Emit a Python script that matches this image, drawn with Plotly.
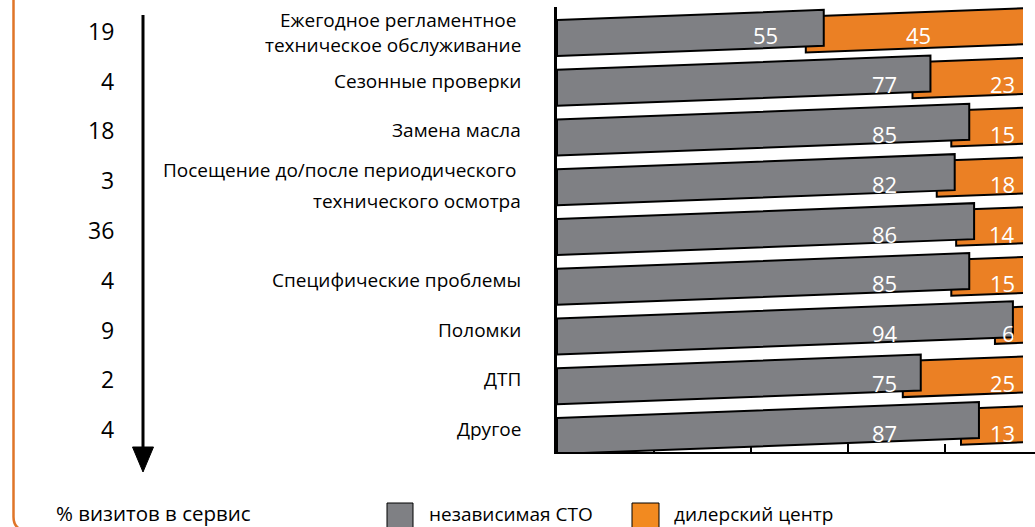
import plotly.graph_objects as go

# ---------------- data ----------------
categories = [
    "Ежегодное регламентное\u00a0\nтехническое обслуживание",
    "Сезонные проверки",
    "Замена масла",
    "Посещение до/после периодического\u00a0\nтехнического осмотра",
    "",
    "Специфические проблемы",
    "Поломки",
    "ДТП",
    "Другое",
]
visit_share = [19, 4, 18, 3, 36, 4, 9, 2, 4]
independent = [55, 77, 85, 82, 86, 85, 94, 75, 87]
dealer = [45, 23, 15, 18, 14, 15, 6, 25, 13]
series_names = ["независимая СТО", "дилерский центр"]
share_title = "% визитов в сервис"

# ---------------- style / layout constants ----------------
W, H = 1035, 527
X0, X1 = 557, 1023          # plot area (px)
Y_TOP, Y_BOT = 7, 452
PX_UNIT = 4.85              # px per percent
ROW0, ROW_STEP = 38, 49.75  # px of first row centre, row pitch
HALF_H_PX = 18
TILT = 0.038                # px rise per px to the right
OR_DROP_PX = 6
OR_TUCK = 3.7
GRAY = "#7F8084"
ORANGE = "#EB8024"
FONT = "Open Sans"

def px(x):
    return x / W

def py(y):
    return 1 - y / H

x_range = [0, (X1 - X0) / PX_UNIT]
y_range = [(Y_BOT - ROW0) / ROW_STEP, (Y_TOP - ROW0) / ROW_STEP]
tilt_u = TILT * PX_UNIT / ROW_STEP
hh = HALF_H_PX / ROW_STEP
drop = OR_DROP_PX / ROW_STEP

def row_y_px(i):
    return ROW0 + ROW_STEP * i

# polygons (computed from the values through the data axes)
gx, gy, ox, oy = [], [], [], []
for i, (v, d) in enumerate(zip(independent, dealer)):
    gx += [0, v, v, 0, 0, None]
    gy += [i - hh, i - hh - tilt_u * v, i + hh - tilt_u * v, i + hh, i - hh, None]
    s, e = v - OR_TUCK, v + d
    ox += [s, e, e, s, s, None]
    oy += [i - hh + drop - tilt_u * s, i - hh + drop - tilt_u * e,
           i + hh + drop - tilt_u * e, i + hh + drop - tilt_u * s,
           i - hh + drop - tilt_u * s, None]

fig = go.Figure()
fig.add_trace(go.Scatter(x=ox, y=oy, mode="lines", fill="toself", fillcolor=ORANGE,
                         line=dict(color="black", width=2), name=series_names[1],
                         showlegend=False, hoverinfo="skip"))
fig.add_trace(go.Scatter(x=gx, y=gy, mode="lines", fill="toself", fillcolor=GRAY,
                         line=dict(color="black", width=2), name=series_names[0],
                         showlegend=False, hoverinfo="skip"))

annotations = []
label_dy = -3.5 / ROW_STEP
val_font = dict(family=FONT, size=22, color="white")
for i, (v, d) in enumerate(zip(independent, dealer)):
    gxc = 67.6 if v >= 72 else v - 12
    annotations.append(dict(x=gxc, y=i + label_dy, xref="x", yref="y", text=str(v),
                            showarrow=False, font=val_font, xanchor="center", yanchor="middle"))
    if d >= 30:
        annotations.append(dict(x=(v + x_range[1]) / 2 - 1, y=i + label_dy, xref="x", yref="y",
                                text=str(d), showarrow=False, font=val_font,
                                xanchor="center", yanchor="middle"))
    else:
        annotations.append(dict(x=(1017 - X0) / PX_UNIT, y=i + label_dy, xref="x", yref="y",
                                text=str(d), showarrow=False, font=val_font,
                                xanchor="right", yanchor="middle"))

# left numbers
for i, s in enumerate(visit_share):
    annotations.append(dict(x=px(116), y=py(row_y_px(i) - 7), xref="paper", yref="paper",
                            text=str(s), showarrow=False, xanchor="right", yanchor="middle",
                            font=dict(family=FONT, size=23, color="black")))

# category labels
cat_font = dict(family=FONT, size=19, color="black")
split_lines = {3: (-17, 14)}   # rows whose two lines are set far apart
for i, c in enumerate(categories):
    if not c:
        continue
    lines = c.split("\n")
    if len(lines) > 1 and i in split_lines:
        for ln, off in zip(lines, split_lines[i]):
            annotations.append(dict(x=px(522), y=py(row_y_px(i) + off), xref="paper", yref="paper",
                                    text=ln, showarrow=False, xanchor="right", yanchor="middle",
                                    font=cat_font, borderpad=0))
    else:
        off = -5.5 if len(lines) > 1 else -7
        annotations.append(dict(x=px(522), y=py(row_y_px(i) + off), xref="paper", yref="paper",
                                text="<br>".join(lines), showarrow=False, xanchor="right",
                                yanchor="middle", align="right", font=cat_font, borderpad=0))

# bottom texts
annotations.append(dict(x=px(55), y=py(513), xref="paper", yref="paper", text=share_title,
                        showarrow=False, xanchor="left", yanchor="middle", borderpad=0,
                        font=dict(family=FONT, size=20.5, color="black")))
annotations.append(dict(x=px(428), y=py(513.5), xref="paper", yref="paper", text=series_names[0],
                        showarrow=False, xanchor="left", yanchor="middle", borderpad=0,
                        font=dict(family=FONT, size=19, color="black")))
annotations.append(dict(x=px(673), y=py(513.5), xref="paper", yref="paper", text=series_names[1],
                        showarrow=False, xanchor="left", yanchor="middle", borderpad=0,
                        font=dict(family=FONT, size=19, color="black")))

shapes = [
    # orange frame edge
    dict(type="path", xref="paper", yref="paper",
         path=f"M {px(13.5)},{py(-2)} L {px(13.5)},{py(517)} Q {px(13.5)},{py(527)} {px(22)},{py(530)}",
         line=dict(color="#E07528", width=2.5)),
    # arrow
    dict(type="line", xref="paper", yref="paper", x0=px(143), x1=px(143), y0=py(15), y1=py(452),
         line=dict(color="black", width=3)),
    dict(type="path", xref="paper", yref="paper",
         path=f"M {px(132.5)},{py(447)} L {px(153.5)},{py(447)} L {px(143)},{py(472)} Z",
         fillcolor="black", line=dict(color="black", width=1)),
    # x-axis line extension to the edge
    dict(type="line", xref="paper", yref="paper", x0=px(X1 - 1), x1=px(W), y0=py(Y_BOT + 1),
         y1=py(Y_BOT + 1), line=dict(color="black", width=2), layer="below"),
    # legend squares
    dict(type="rect", xref="paper", yref="paper", x0=px(387), x1=px(413), y0=py(503), y1=py(532),
         fillcolor=GRAY, line=dict(color="black", width=1)),
    dict(type="rect", xref="paper", yref="paper", x0=px(632), x1=px(659), y0=py(503), y1=py(532),
         fillcolor="#F28A20", line=dict(color="black", width=1)),
]

fig.update_layout(
    width=W, height=H,
    margin=dict(l=0, r=0, t=0, b=0),
    paper_bgcolor="white", plot_bgcolor="white",
    showlegend=False,
    xaxis=dict(domain=[px(X0), px(X1)], range=x_range, showline=True, linecolor="black",
               linewidth=2, ticks="inside", ticklen=8, tickwidth=2, tickcolor="black",
               tick0=0, dtick=20, showticklabels=False, showgrid=False, zeroline=False,
               layer="below traces", fixedrange=True),
    yaxis=dict(domain=[1 - Y_BOT / H, 1 - Y_TOP / H], range=y_range, showline=True,
               linecolor="black", linewidth=2.5, showticklabels=False, showgrid=False,
               zeroline=False, ticks="", fixedrange=True),
    annotations=annotations,
    shapes=shapes,
)

fig.write_html("out.html")
